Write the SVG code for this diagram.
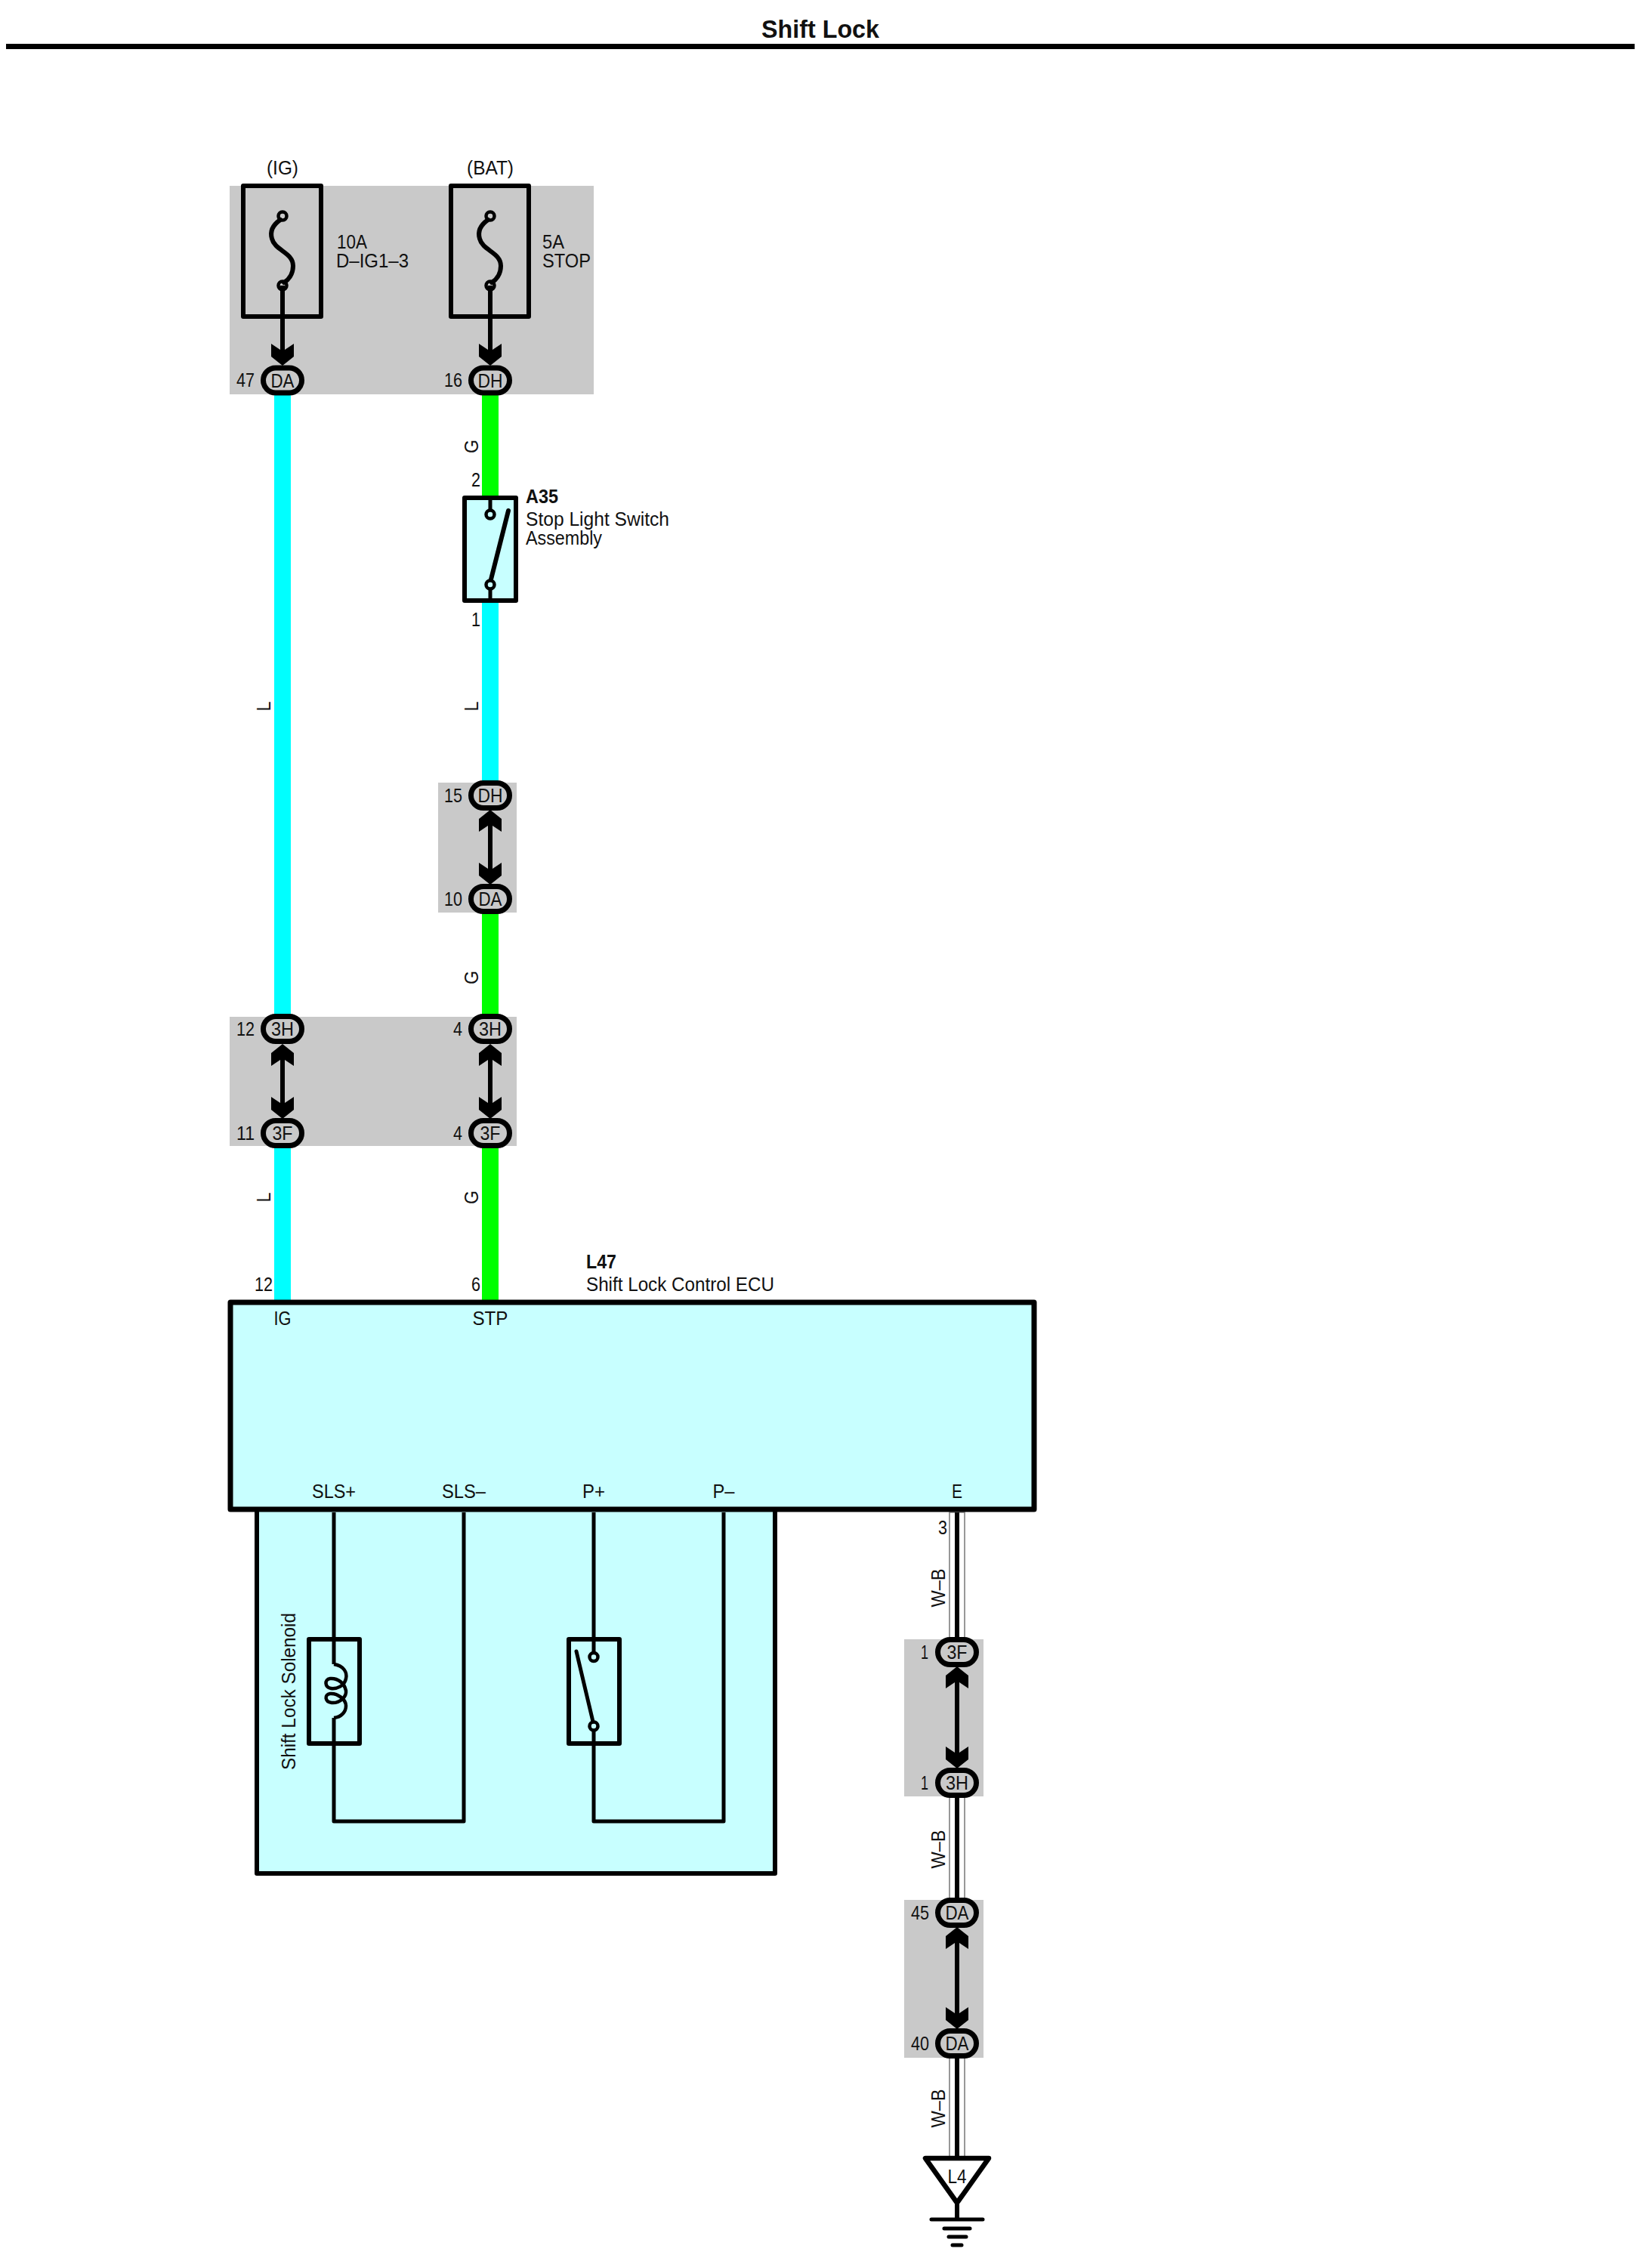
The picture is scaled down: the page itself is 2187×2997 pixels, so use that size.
<svg xmlns="http://www.w3.org/2000/svg" xmlns:xlink="http://www.w3.org/1999/xlink" width="2187" height="2997" viewBox="0 0 2187 2997">
<style>
text{font-family:"Liberation Sans",Arial,sans-serif;font-size:26px;fill:#111}
.b{font-weight:bold}
.m{text-anchor:middle}
.e{text-anchor:end}
.gray{fill:#c9c9c9}
.box{fill:none;stroke:#000;stroke-width:6;stroke-linejoin:round}
.cbox{fill:#c8ffff;stroke:#000;stroke-width:7;stroke-linejoin:round}
.ln{fill:none;stroke:#000;stroke-width:5;stroke-linejoin:round}
.th{fill:none;stroke:#000;stroke-width:6;stroke-linecap:round;stroke-linejoin:round}
.oval{fill:#c9c9c9;stroke:#000;stroke-width:7}
.term{fill:none;stroke:#000;stroke-width:4.5}
</style>
<defs>
<polygon id="ad" points="0,0 15,-12 15,-29 0,-19 -15,-29 -15,-12" fill="#000"/>
<polygon id="au" points="0,0 15,12 15,29 0,19 -15,29 -15,12" fill="#000"/>
<rect id="ov" x="-25.5" y="-16.5" width="51" height="33" rx="16.5" ry="16.5" class="oval"/>
</defs>
<rect width="2187" height="2997" fill="#fff"/>

<g id="title">
<text class="b m" x="1086" y="50" style="font-size:33px" textLength="156" lengthAdjust="spacingAndGlyphs">Shift Lock</text>
<rect x="8" y="58" width="2156" height="7" fill="#000"/>
</g>

<g id="gray-areas">
<rect class="gray" x="304" y="246" width="482" height="276"/>
<rect class="gray" x="580" y="1036" width="104" height="172"/>
<rect class="gray" x="304" y="1346" width="380" height="171"/>
<rect class="gray" x="1197" y="2170" width="105" height="208"/>
<rect class="gray" x="1197" y="2515" width="105" height="209"/>
</g>

<g id="connectors">
<g fill="#00ffff">
<rect x="363" y="520" width="22" height="826"/>
<rect x="363" y="1516" width="22" height="208"/>
<rect x="638" y="796" width="22" height="242"/>
</g>
<g fill="#00ff00">
<rect x="638" y="520" width="22" height="138"/>
<rect x="638" y="1206" width="22" height="140"/>
<rect x="638" y="1516" width="22" height="208"/>
</g>
<g fill="#fff" stroke="#777" stroke-width="1.500">
<rect x="1257" y="2002" width="20" height="168"/>
<rect x="1257" y="2378" width="20" height="137"/>
<rect x="1257" y="2724" width="20" height="132"/>
</g>
<g stroke="#000" stroke-width="6" fill="none">
<path d="M1267 2002V2170M1267 2378V2515M1267 2724V2856"/>
<path d="M374 378V470M649 378V470"/>
<path d="M649 1085V1160M374 1395V1470M649 1395V1470M1267 2220V2330M1267 2565V2675"/>
</g>
</g>

<g id="fuse-ig">
<text class="m" x="374" y="231" textLength="42" lengthAdjust="spacingAndGlyphs">(IG)</text>
<rect class="box" x="322" y="246" width="103" height="173"/>
<path class="th" d="M371 291C361 298 357 306 360 316C364 332 388 334 388 352C388 364 381 371 376 374"/>
<circle class="term" cx="374" cy="286" r="5.500"/>
<circle class="term" cx="374" cy="378" r="5.500"/>
<text x="446" y="329" textLength="40" lengthAdjust="spacingAndGlyphs">10A</text>
<text x="445" y="354" textLength="96" lengthAdjust="spacingAndGlyphs">D–IG1–3</text>
</g>
<g id="fuse-bat">
<text class="m" x="649" y="231" textLength="62" lengthAdjust="spacingAndGlyphs">(BAT)</text>
<rect class="box" x="597" y="246" width="103" height="173"/>
<path class="th" d="M646 291C636 298 632 306 635 316C639 332 663 334 663 352C663 364 656 371 651 374"/>
<circle class="term" cx="649" cy="286" r="5.500"/>
<circle class="term" cx="649" cy="378" r="5.500"/>
<text x="718" y="329" textLength="29" lengthAdjust="spacingAndGlyphs">5A</text>
<text x="718" y="354" textLength="64" lengthAdjust="spacingAndGlyphs">STOP</text>
</g>

<g id="conn-da-47"><use href="#ad" xlink:href="#ad" x="374" y="484"/><use href="#ov" xlink:href="#ov" x="374" y="503.500"/><text class="m" x="374" y="512.500" textLength="31" lengthAdjust="spacingAndGlyphs">DA</text><text class="e" x="337" y="511.500" textLength="24" lengthAdjust="spacingAndGlyphs">47</text></g>
<g id="conn-dh-16"><use href="#ad" xlink:href="#ad" x="649" y="484"/><use href="#ov" xlink:href="#ov" x="649" y="503.500"/><text class="m" x="649" y="512.500" textLength="33" lengthAdjust="spacingAndGlyphs">DH</text><text class="e" x="612" y="511.500" textLength="24" lengthAdjust="spacingAndGlyphs">16</text></g>

<g id="wire-labels">
<text class="m" transform="translate(633 591) rotate(-90)" textLength="18" lengthAdjust="spacingAndGlyphs">G</text>
<text class="m" transform="translate(358 935) rotate(-90)" textLength="13" lengthAdjust="spacingAndGlyphs">L</text>
<text class="m" transform="translate(633 935) rotate(-90)" textLength="13" lengthAdjust="spacingAndGlyphs">L</text>
<text class="m" transform="translate(633 1294) rotate(-90)" textLength="18" lengthAdjust="spacingAndGlyphs">G</text>
<text class="m" transform="translate(358 1585) rotate(-90)" textLength="13" lengthAdjust="spacingAndGlyphs">L</text>
<text class="m" transform="translate(633 1585) rotate(-90)" textLength="18" lengthAdjust="spacingAndGlyphs">G</text>
<text class="m" transform="translate(1251 2102) rotate(-90)" textLength="51" lengthAdjust="spacingAndGlyphs">W–B</text>
<text class="m" transform="translate(1251 2448) rotate(-90)" textLength="51" lengthAdjust="spacingAndGlyphs">W–B</text>
<text class="m" transform="translate(1251 2791) rotate(-90)" textLength="51" lengthAdjust="spacingAndGlyphs">W–B</text>
</g>

<g id="a35">
<rect class="cbox" style="stroke-width:6" x="615" y="659" width="68" height="136" />
<path class="ln" d="M649 659V676M649 780V795"/>
<path class="th" d="M673 676L650 767"/>
<circle class="term" cx="649" cy="681" r="5.500"/>
<circle class="term" cx="649" cy="774" r="5.500"/>
<text class="e" x="636" y="644" textLength="12" lengthAdjust="spacingAndGlyphs">2</text>
<text class="e" x="636" y="829" textLength="12" lengthAdjust="spacingAndGlyphs">1</text>
<text class="b" x="696" y="666" textLength="43" lengthAdjust="spacingAndGlyphs">A35</text>
<text x="696" y="696" textLength="190" lengthAdjust="spacingAndGlyphs">Stop Light Switch</text>
<text x="696" y="721" textLength="101" lengthAdjust="spacingAndGlyphs">Assembly</text>
</g>

<g id="conn-dh-15"><use href="#ov" xlink:href="#ov" x="649" y="1053"/><text class="m" x="649" y="1062" textLength="33" lengthAdjust="spacingAndGlyphs">DH</text><text class="e" x="612" y="1062" textLength="24" lengthAdjust="spacingAndGlyphs">15</text><use href="#au" xlink:href="#au" x="649" y="1072"/></g>
<g id="conn-da-10"><use href="#ov" xlink:href="#ov" x="649" y="1190"/><text class="m" x="649" y="1199" textLength="31" lengthAdjust="spacingAndGlyphs">DA</text><text class="e" x="612" y="1199" textLength="24" lengthAdjust="spacingAndGlyphs">10</text><use href="#ad" xlink:href="#ad" x="649" y="1171"/></g>
<g id="conn-3h-12"><use href="#ov" xlink:href="#ov" x="374" y="1362"/><text class="m" x="374" y="1371" textLength="30" lengthAdjust="spacingAndGlyphs">3H</text><text class="e" x="337" y="1371" textLength="24" lengthAdjust="spacingAndGlyphs">12</text><use href="#au" xlink:href="#au" x="374" y="1382"/></g>
<g id="conn-3f-11"><use href="#ov" xlink:href="#ov" x="374" y="1500"/><text class="m" x="374" y="1509" textLength="27" lengthAdjust="spacingAndGlyphs">3F</text><text class="e" x="337" y="1509" textLength="24" lengthAdjust="spacingAndGlyphs">11</text><use href="#ad" xlink:href="#ad" x="374" y="1481"/></g>
<g id="conn-3h-4"><use href="#ov" xlink:href="#ov" x="649" y="1362"/><text class="m" x="649" y="1371" textLength="30" lengthAdjust="spacingAndGlyphs">3H</text><text class="e" x="612" y="1371" textLength="12" lengthAdjust="spacingAndGlyphs">4</text><use href="#au" xlink:href="#au" x="649" y="1382"/></g>
<g id="conn-3f-4"><use href="#ov" xlink:href="#ov" x="649" y="1500"/><text class="m" x="649" y="1509" textLength="27" lengthAdjust="spacingAndGlyphs">3F</text><text class="e" x="612" y="1509" textLength="12" lengthAdjust="spacingAndGlyphs">4</text><use href="#ad" xlink:href="#ad" x="649" y="1481"/></g>

<g id="shift-lock-unit">
<rect class="cbox" style="stroke-width:6" x="340" y="1900" width="686" height="580"/>
<path class="ln" d="M442 2002V2203M442 2274V2411H614V2002"/>
<path class="ln" d="M786 2002V2188M786 2291V2411H958V2002"/>
<text class="m" transform="translate(391 2239) rotate(-90)" textLength="208" lengthAdjust="spacingAndGlyphs">Shift Lock Solenoid</text>
</g>
<g id="solenoid">
<rect class="box" x="409" y="2170" width="67" height="138"/>
<path class="ln" style="stroke-width:4.500" d="M442 2203C455 2205 460 2214 458 2222C456 2232 446 2236 438 2235C430 2234 429 2223 437 2222C447 2221 456 2228 458 2238C459 2246 450 2255 439 2254C430 2253 429 2243 437 2242C447 2241 458 2250 458 2258C458 2266 452 2273 442 2274"/>
</g>
<g id="p-switch">
<rect class="box" x="753" y="2170" width="67" height="138"/>
<path class="th" style="stroke-width:5" d="M763 2186L785 2279"/>
<circle class="term" cx="786" cy="2193.500" r="5.500"/>
<circle class="term" cx="786" cy="2285" r="5.500"/>
</g>

<g id="ecu">
<rect class="cbox" x="305" y="1724" width="1064" height="274"/>
<text class="e" x="361" y="1709" textLength="24" lengthAdjust="spacingAndGlyphs">12</text>
<text class="e" x="636" y="1709" textLength="12" lengthAdjust="spacingAndGlyphs">6</text>
<text class="b" x="776" y="1679" textLength="40" lengthAdjust="spacingAndGlyphs">L47</text>
<text x="776" y="1709" textLength="249" lengthAdjust="spacingAndGlyphs">Shift Lock Control ECU</text>
<text class="m" x="374" y="1754" textLength="23" lengthAdjust="spacingAndGlyphs">IG</text>
<text class="m" x="649" y="1754" textLength="47" lengthAdjust="spacingAndGlyphs">STP</text>
<text class="m" x="442" y="1983" textLength="58" lengthAdjust="spacingAndGlyphs">SLS+</text>
<text class="m" x="614" y="1983" textLength="58" lengthAdjust="spacingAndGlyphs">SLS–</text>
<text class="m" x="786" y="1983" textLength="30" lengthAdjust="spacingAndGlyphs">P+</text>
<text class="m" x="958" y="1983" textLength="29" lengthAdjust="spacingAndGlyphs">P–</text>
<text class="m" x="1267" y="1983" textLength="14" lengthAdjust="spacingAndGlyphs">E</text>
</g>
<text id="pin-3" class="e" x="1254" y="2031" textLength="12" lengthAdjust="spacingAndGlyphs">3</text>

<g id="conn-3f-1"><use href="#ov" xlink:href="#ov" x="1267" y="2187"/><text class="m" x="1267" y="2196" textLength="27" lengthAdjust="spacingAndGlyphs">3F</text><text class="e" x="1229" y="2196" textLength="10" lengthAdjust="spacingAndGlyphs">1</text><use href="#au" xlink:href="#au" x="1267" y="2206"/></g>
<g id="conn-3h-1"><use href="#ov" xlink:href="#ov" x="1267" y="2360"/><text class="m" x="1267" y="2369" textLength="30" lengthAdjust="spacingAndGlyphs">3H</text><text class="e" x="1229" y="2369" textLength="10" lengthAdjust="spacingAndGlyphs">1</text><use href="#ad" xlink:href="#ad" x="1267" y="2341"/></g>
<g id="conn-da-45"><use href="#ov" xlink:href="#ov" x="1267" y="2532"/><text class="m" x="1267" y="2541" textLength="31" lengthAdjust="spacingAndGlyphs">DA</text><text class="e" x="1230" y="2541" textLength="24" lengthAdjust="spacingAndGlyphs">45</text><use href="#au" xlink:href="#au" x="1267" y="2551"/></g>
<g id="conn-da-40"><use href="#ov" xlink:href="#ov" x="1267" y="2705"/><text class="m" x="1267" y="2714" textLength="31" lengthAdjust="spacingAndGlyphs">DA</text><text class="e" x="1230" y="2714" textLength="24" lengthAdjust="spacingAndGlyphs">40</text><use href="#ad" xlink:href="#ad" x="1267" y="2686"/></g>

<g id="ground-l4">
<polygon class="th" style="fill:#fff;stroke-width:6.500" points="1225,2857 1309,2857 1267,2916"/>
<path d="M1267 2918V2938" stroke="#000" stroke-width="6"/>
<g stroke="#000" stroke-linecap="round" stroke-width="5">
<path d="M1233 2938H1301M1250 2950H1284M1256 2961H1279M1261 2972H1273"/>
</g>
<text class="m" x="1267" y="2890" textLength="25" lengthAdjust="spacingAndGlyphs">L4</text>
</g>
</svg>
